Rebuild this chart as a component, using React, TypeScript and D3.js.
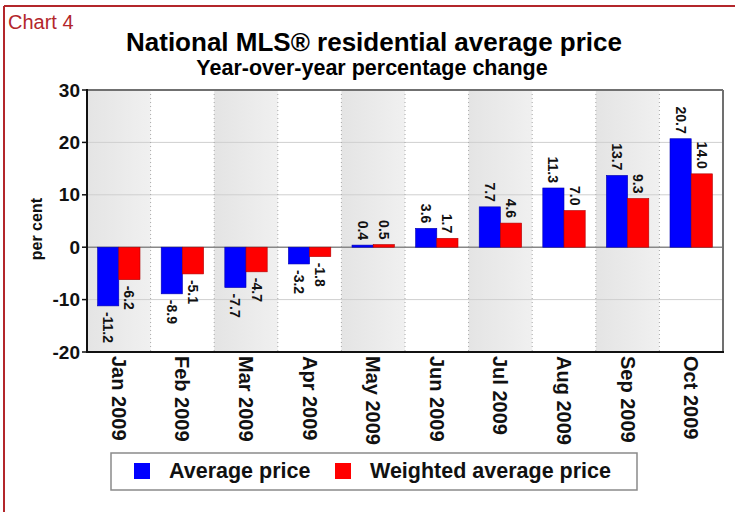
import React from "react";
import * as d3 from "d3";

const categories = ["Jan 2009", "Feb 2009", "Mar 2009", "Apr 2009", "May 2009", "Jun 2009", "Jul 2009", "Aug 2009", "Sep 2009", "Oct 2009"];
const averagePrice = [-11.2, -8.9, -7.7, -3.2, 0.4, 3.6, 7.7, 11.3, 13.7, 20.7];
const weightedAveragePrice = [-6.2, -5.1, -4.7, -1.8, 0.5, 1.7, 4.6, 7.0, 9.3, 14.0];
const seriesNames = ["Average price", "Weighted average price"];
const seriesColors = ["#0000ff", "#ff0000"];
const seriesStroke = ["#0000b0", "#b00000"];
const yTicks = [-20, -10, 0, 10, 20, 30];
const titleText = "National MLS® residential average price";
const subtitleText = "Year-over-year percentage change";
const chartTag = "Chart 4";
const yLabel = "per cent";

const W = 735;
const H = 512;
const FONT = "'Liberation Sans', Arial, Helvetica, sans-serif";

export default function App() {
  const left = 87, right = 723, top = 90, bottom = 352;
  const x = d3.scaleBand<string>().domain(categories).range([left, right]).paddingInner(0).paddingOuter(0);
  const xs = d3.scaleBand<string>().domain(["a", "w"]).range([0, x.bandwidth()]).paddingInner(0).paddingOuter(0.5);
  const y = d3.scaleLinear().domain([-20, 30]).range([bottom, top]);
  const series = [averagePrice, weightedAveragePrice];
  const keys = ["a", "w"];
  const fmt = (v: number) => d3.format(".1f")(v).replace("\u2212", "-");

  return (
    <svg width={W} height={H} style={{ position: "absolute", left: 0, top: 0, background: "#fff" }} fontFamily={FONT}>
      <defs>
        <linearGradient id="bandGrad" x1="0" x2="1" y1="0" y2="0">
          <stop offset="0" stopColor="#e4e4e4" />
          <stop offset="1" stopColor="#f0f0f0" />
        </linearGradient>
      </defs>
      <rect x={0} y={0} width={W} height={H} fill="#fff" />
      {/* red frame */}
      <line x1={4} x2={W} y1={6} y2={6} stroke="#b3262b" strokeWidth={2} />
      <line x1={4} x2={4} y1={6} y2={H} stroke="#b3262b" strokeWidth={2} />
      <text x={8} y={29} fontSize={20} fill="#b3262b">{chartTag}</text>

      <text x={374} y={51} fontSize={26} fontWeight="bold" textAnchor="middle" fill="#000">{titleText}</text>
      <text x={372} y={75} fontSize={21.5} fontWeight="bold" textAnchor="middle" fill="#000">{subtitleText}</text>

      {/* shaded bands */}
      {categories.map((c, i) => i % 2 === 0 ? (
        <rect key={"b" + c} x={x(c)} y={top} width={x.bandwidth()} height={bottom - top} fill="url(#bandGrad)" />
      ) : null)}
      {/* gridlines */}
      {yTicks.filter(t => t !== 0 && t !== 30 && t !== -20).map(t => (
        <line key={"g" + t} x1={left} x2={right} y1={y(t)} y2={y(t)} stroke="#cfcfcf" strokeWidth={1} />
      ))}
      {/* dotted separators */}
      {categories.slice(1).map(c => (
        <line key={"s" + c} x1={x(c)} x2={x(c)} y1={top} y2={bottom} stroke="#a8a8a8" strokeWidth={1} strokeDasharray="1,3" />
      ))}
      {/* zero line */}
      <line x1={left} x2={right} y1={y(0)} y2={y(0)} stroke="#888" strokeWidth={1.5} />

      {/* bars */}
      {categories.map((c, i) => (
        <g key={"g" + c}>
          {series.map((s, k) => {
            const v = s[i];
            const bx = (x(c) as number) + (xs(keys[k]) as number);
            const y0 = y(Math.max(0, v));
            const h = Math.abs(y(v) - y(0));
            return (
              <rect key={k} x={bx} y={y0} width={xs.bandwidth()} height={Math.max(h, 1)} fill={seriesColors[k]} stroke={seriesStroke[k]} strokeWidth={0.6} />
            );
          })}
        </g>
      ))}
      {/* value labels */}
      {categories.map((c, i) => (
        <g key={"l" + c}>
          {series.map((s, k) => {
            const v = s[i];
            const cx = (x(c) as number) + (xs(keys[k]) as number) + xs.bandwidth() / 2;
            const pos = v >= 0;
            const ly = pos ? y(v) - 5 : y(v) + 6;
            return (
              <text key={k} transform={`translate(${cx},${ly}) rotate(90)`} textAnchor={pos ? "end" : "start"} dy="0.35em" fontSize={14} fontWeight="bold" fill="#111">{fmt(v)}</text>
            );
          })}
        </g>
      ))}

      {/* frame */}
      <line x1={left} x2={right} y1={top} y2={top} stroke="#707070" strokeWidth={2} />
      <line x1={right} x2={right} y1={top} y2={bottom} stroke="#707070" strokeWidth={2} />
      <line x1={left} x2={left} y1={top - 1} y2={bottom + 1} stroke="#111" strokeWidth={2} />
      <line x1={left - 1} x2={right + 1} y1={bottom} y2={bottom} stroke="#111" strokeWidth={2} />

      {/* y axis ticks & labels */}
      {yTicks.map(t => (
        <g key={"t" + t}>
          <line x1={left - 5} x2={left} y1={y(t)} y2={y(t)} stroke="#111" strokeWidth={1.5} />
          <text x={left - 7} y={y(t)} dy="0.35em" textAnchor="end" fontSize={19} fontWeight="bold" fill="#111">{t}</text>
        </g>
      ))}
      <text transform={`translate(36,${(y(-5) + y(10)) / 2 - 5}) rotate(-90)`} textAnchor="middle" dy="0.35em" fontSize={16} fontWeight="bold" fill="#111">{yLabel}</text>

      {/* x labels */}
      {categories.map(c => (
        <text key={"x" + c} transform={`translate(${(x(c) as number) + x.bandwidth() / 2},${bottom + 4}) rotate(90)`} textAnchor="start" dy="0.35em" fontSize={20} fontWeight="bold" fill="#111">{c}</text>
      ))}

      {/* legend */}
      <rect x={111} y={453} width={526} height={37} fill="#fff" stroke="#8a8a8a" strokeWidth={1.5} />
      {seriesNames.map((n, k) => {
        const lx = k === 0 ? 134 : 335;
        return (
          <g key={"lg" + n}>
            <rect x={lx} y={463} width={16} height={16} fill={seriesColors[k]} />
            <text x={lx + 35} y={478} fontSize={21.5} fontWeight="bold" fill="#111">{n}</text>
          </g>
        );
      })}
    </svg>
  );
}
